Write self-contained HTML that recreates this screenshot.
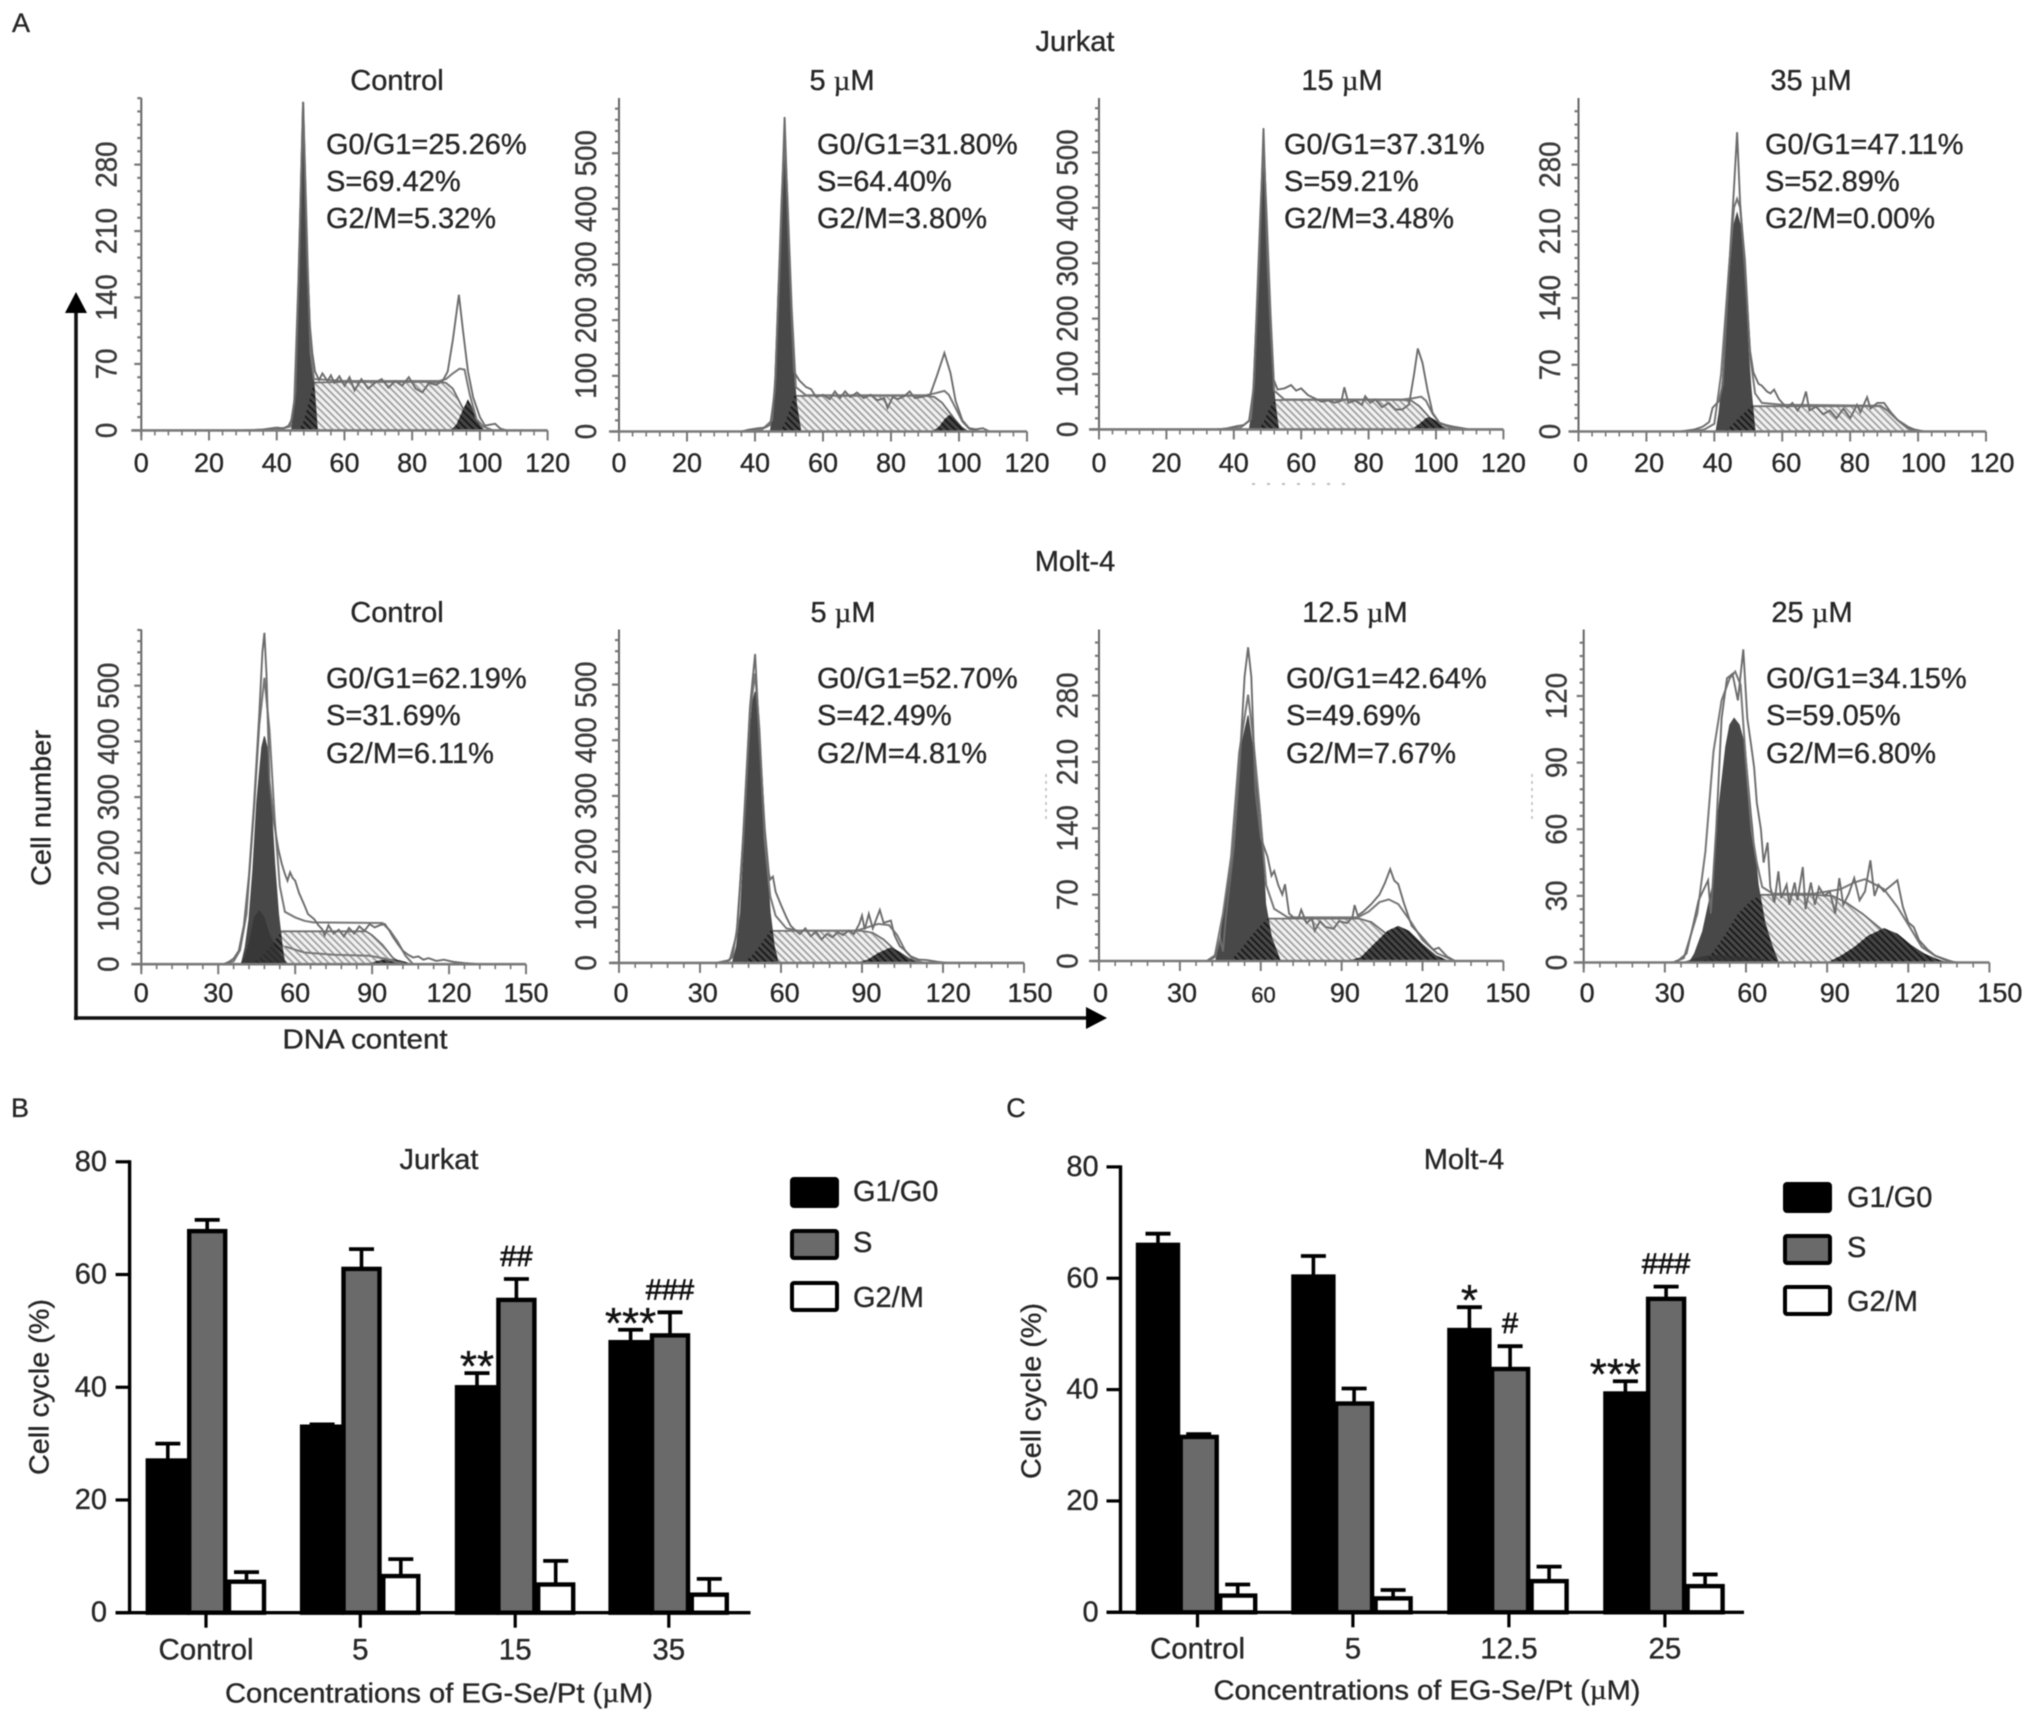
<!DOCTYPE html>
<html lang="en">
<head>
<meta charset="utf-8">
<title>Cell cycle distribution in Jurkat and Molt-4 cells</title>
<style>
html,body{margin:0;padding:0;background:#fff;}
svg{display:block;width:2032px;height:1721px;font-family:"Liberation Sans",sans-serif;filter:blur(0.45px);}
text{fill:#262626;stroke:#262626;stroke-width:0.35px;}
.c{text-anchor:middle;dominant-baseline:central;}
.l{text-anchor:start;dominant-baseline:central;}
.mu{font-family:"Liberation Serif",serif;}
</style>
</head>
<body>
<svg id="fig" xmlns="http://www.w3.org/2000/svg" width="2032" height="1721" viewBox="0 0 2032 1721">
<defs>
<pattern id="hatchLight" width="5" height="5" patternUnits="userSpaceOnUse" patternTransform="rotate(-45)">
<rect width="5" height="5" fill="#f2f2f2"/><line x1="1.5" y1="0" x2="1.5" y2="5" stroke="#9c9c9c" stroke-width="1.7"/>
</pattern>
<pattern id="hatchDark" width="5" height="5" patternUnits="userSpaceOnUse" patternTransform="rotate(-45)">
<line x1="1.5" y1="0" x2="1.5" y2="5" stroke="#151515" stroke-width="1.7"/>
</pattern>
</defs>
<rect width="2032" height="1721" fill="#fff"/>

<text class="c" x="21" y="23" font-size="27">A</text>
<text class="c" x="20" y="1108" font-size="27">B</text>
<text class="c" x="1016" y="1108" font-size="27">C</text>

<text class="c" x="1075" y="42" font-size="29">Jurkat</text>
<text class="c" x="1075" y="562" font-size="29">Molt-4</text>

<text class="c" x="397" y="81" font-size="29">Control</text>
<text class="c" x="842" y="81" font-size="29">5 <tspan class="mu">µ</tspan>M</text>
<text class="c" x="1342" y="81" font-size="29">15 <tspan class="mu">µ</tspan>M</text>
<text class="c" x="1811" y="81" font-size="29">35 <tspan class="mu">µ</tspan>M</text>
<text class="c" x="397" y="613" font-size="29">Control</text>
<text class="c" x="843" y="613" font-size="29">5 <tspan class="mu">µ</tspan>M</text>
<text class="c" x="1355" y="613" font-size="29">12.5 <tspan class="mu">µ</tspan>M</text>
<text class="c" x="1812" y="613" font-size="29">25 <tspan class="mu">µ</tspan>M</text>

<g font-size="29">
<text class="l" x="326" y="145">G0/G1=25.26%</text><text class="l" x="326" y="182">S=69.42%</text><text class="l" x="326" y="219">G2/M=5.32%</text></g>
<g font-size="29">
<text class="l" x="817" y="145">G0/G1=31.80%</text><text class="l" x="817" y="182">S=64.40%</text><text class="l" x="817" y="219">G2/M=3.80%</text></g>
<g font-size="29">
<text class="l" x="1284" y="145">G0/G1=37.31%</text><text class="l" x="1284" y="182">S=59.21%</text><text class="l" x="1284" y="219">G2/M=3.48%</text></g>
<g font-size="29">
<text class="l" x="1765" y="145">G0/G1=47.11%</text><text class="l" x="1765" y="182">S=52.89%</text><text class="l" x="1765" y="219">G2/M=0.00%</text></g>
<g font-size="29">
<text class="l" x="326" y="679">G0/G1=62.19%</text><text class="l" x="326" y="716">S=31.69%</text><text class="l" x="326" y="754">G2/M=6.11%</text></g>
<g font-size="29">
<text class="l" x="817" y="679">G0/G1=52.70%</text><text class="l" x="817" y="716">S=42.49%</text><text class="l" x="817" y="754">G2/M=4.81%</text></g>
<g font-size="29">
<text class="l" x="1286" y="679">G0/G1=42.64%</text><text class="l" x="1286" y="716">S=49.69%</text><text class="l" x="1286" y="754">G2/M=7.67%</text></g>
<g font-size="29">
<text class="l" x="1766" y="679">G0/G1=34.15%</text><text class="l" x="1766" y="716">S=59.05%</text><text class="l" x="1766" y="754">G2/M=6.80%</text></g>

<g>
<line x1="76" y1="1020" x2="76" y2="308" stroke="#111" stroke-width="3.6"/>
<polygon points="76,292 65,313 87,313" fill="#000"/>
</g>
<g>
<line x1="74" y1="1018" x2="1090" y2="1018" stroke="#111" stroke-width="3.6"/>
<polygon points="1107,1018 1086,1007 1086,1029" fill="#000"/>
</g>
<text class="c" transform="translate(41 808) rotate(-90)" font-size="28" textLength="156" lengthAdjust="spacingAndGlyphs">Cell number</text>
<text class="c" x="365" y="1039" font-size="28" textLength="165" lengthAdjust="spacingAndGlyphs">DNA content</text>

<line x1="1252" y1="484" x2="1350" y2="484" stroke="#bbb" stroke-width="2" stroke-dasharray="3 12"/>
<line x1="1046" y1="774" x2="1046" y2="819" stroke="#bbb" stroke-width="1.5" stroke-dasharray="3 4"/>
<line x1="1532" y1="774" x2="1532" y2="819" stroke="#bbb" stroke-width="1.5" stroke-dasharray="3 4"/>

<text class="c" x="439" y="1160" font-size="29">Jurkat</text>
<text class="c" transform="translate(39 1387) rotate(-90)" font-size="28" textLength="176" lengthAdjust="spacingAndGlyphs">Cell cycle (%)</text>
<text class="c" x="439" y="1693" font-size="28" textLength="428" lengthAdjust="spacingAndGlyphs">Concentrations of EG-Se/Pt (<tspan class="mu">µ</tspan>M)</text>
<g>
<rect x="792" y="1179" width="45" height="27" rx="2" fill="#000" stroke="#000" stroke-width="4"/>
<text class="l" x="853" y="1192" font-size="29">G1/G0</text>
<rect x="792" y="1231" width="45" height="27" rx="2" fill="#6a6a6a" stroke="#000" stroke-width="4"/>
<text class="l" x="853" y="1243" font-size="29">S</text>
<rect x="792" y="1283" width="45" height="27" rx="2" fill="#fff" stroke="#000" stroke-width="4"/>
<text class="l" x="853" y="1298" font-size="29">G2/M</text>
</g>

<text class="c" x="1464" y="1160" font-size="29">Molt-4</text>
<text class="c" transform="translate(1031 1391) rotate(-90)" font-size="28" textLength="176" lengthAdjust="spacingAndGlyphs">Cell cycle (%)</text>
<text class="c" x="1427" y="1690" font-size="28" textLength="427" lengthAdjust="spacingAndGlyphs">Concentrations of EG-Se/Pt (<tspan class="mu">µ</tspan>M)</text>
<g>
<rect x="1785" y="1184" width="45" height="27" rx="2" fill="#000" stroke="#000" stroke-width="4"/>
<text class="l" x="1847" y="1198" font-size="29">G1/G0</text>
<rect x="1785" y="1236" width="45" height="27" rx="2" fill="#6a6a6a" stroke="#000" stroke-width="4"/>
<text class="l" x="1847" y="1248" font-size="29">S</text>
<rect x="1785" y="1287" width="45" height="27" rx="2" fill="#fff" stroke="#000" stroke-width="4"/>
<text class="l" x="1847" y="1302" font-size="29">G2/M</text>
</g>
</svg>

<script>
// ---------- histogram tick labels ----------
const xTicks120 = [0, 20, 40, 60, 80, 100, 120];
const xTicks150 = [0, 30, 60, 90, 120, 150];
const yTicks70 = [0, 70, 140, 210, 280];
const yTicks100 = [0, 100, 200, 300, 400, 500];
const yTicks30 = [0, 30, 60, 90, 120];

// ---------- Jurkat control ----------
const j0G1 = [[44.4,0],[45.2,30],[45.8,80],[46.4,150],[47,240],[47.8,346],[48.6,240],[49.2,160],[49.9,90],[51,50],[52,0]];
const j0S = [[46.5,0],[48,10],[49.5,30],[51,50.5],[60,51],[70,51],[80,51],[88,51],[90,50],[92,44],[94,30],[97,10],[99,0]];
const j0G2 = [[91.3,0],[93,6],[95,22],[96.5,33],[98,22],[100,6],[101.5,0]];
const j0Fit = [[30,0],[40,1],[44,4],[45.2,30],[46.4,155],[47.8,346],[49.2,165],[50,82],[51,54],[60,52],[88,52],[90,54],[92,60],[94,65],[95.5,64],[97,38],[99,12],[101,4],[104,0]];
const j0Raw = [[30,0],[36,1],[40,3],[42,2],[43.5,5],[44.5,12],[45.5,40],[46.6,180],[47.8,346],[49,180],[49.8,110],[50.5,82],[51.3,62],[52.5,53],[53.5,60],[55,52],[56,58],[57,50],[58.5,57],[60,47],[61.5,56],[63,42],[65,54],[67,44],[69,50],[71,54],[73,45],[75,52],[77,47],[79,56],[81,44],[83,40],[85,50],[87,48],[89,52],[90.5,62],[92,95],[93.8,143],[95,105],[96.5,62],[98,35],[100,14],[101.5,5],[103,6],[104.5,7],[106,2],[108,0]];

// ---------- Jurkat 5 uM ----------
const j1G1 = [[44.5,0],[45.3,30],[46,90],[46.7,240],[47.8,400],[48.7,530],[49.6,400],[50.6,240],[51.3,120],[52.2,50],[53.5,0]];
const j1S = [[47.5,0],[49,18],[50.5,45],[51.5,64],[60,64],[70,64],[80,64],[90,64],[92.8,62],[95,52],[98,28],[100,10],[102,0]];
const j1G2 = [[92,0],[94,8],[96,24],[97.3,30],[99,22],[101,8],[103,0]];
const j1Fit = [[36,0],[42,3],[45,20],[46,95],[47.8,410],[48.7,530],[49.6,410],[50.8,220],[52,80],[55,65],[90,65],[92.5,68],[95.7,73],[97,66],[99,42],[101,18],[103,5],[106,0]];
const j1Raw = [[36,0],[38,3],[41,6],[43,7],[44.5,12],[45.8,70],[47.3,300],[48.7,565],[49.9,340],[50.8,200],[51.5,107],[53,92],[55,80],[56.5,76],[58,62],[60,66],[62,58],[63.5,72],[65,60],[66.5,72],[68,62],[70,70],[72,60],[74,66],[76,56],[78,60],[79,42],[80.5,62],[82,58],[84,64],[85.5,72],[87,60],[89,62],[91.5,66],[93.5,100],[95.7,141],[97.5,105],[99,55],[101,20],[103,6],[105,4],[107,6],[109,0]];

// ---------- Jurkat 15 uM ----------
const j2G1 = [[44.6,0],[45.4,30],[46.1,90],[46.9,230],[47.9,380],[48.8,515],[49.7,380],[50.7,230],[51.4,110],[52.3,45],[53.3,0]];
const j2S = [[47.5,0],[49,15],[50.5,38],[52.3,53],[60,53],[70,53],[80,53],[90,53],[92.7,52],[95,42],[98,22],[100,6],[101,0]];
const j2G2 = [[92.7,0],[95,10],[97,20],[98,23],[100,16],[102,6],[104,0]];
const j2Fit = [[35,0],[42,3],[45,18],[46,85],[47.9,390],[48.8,515],[49.7,390],[50.9,210],[52,70],[55,54],[90,54],[93,56],[95.6,59],[97,52],[99,28],[101,12],[104,3],[108,0]];
const j2Raw = [[35,0],[38,2],[41,6],[43,8],[44.5,15],[45.8,70],[47.5,300],[48.8,544],[50,300],[51,170],[51.8,90],[53,72],[55,74],[57,80],[58.5,70],[60,74],[62,62],[64,56],[66,50],[68,52],[70,48],[72,52],[72.8,76],[74,48],[76,52],[78,44],[79,60],[80.5,48],[82,54],[84,40],[86,48],[88,36],[90,36],[92,45],[93.5,100],[94.6,146],[96,120],[97.5,70],[99,30],[101,12],[103,8],[105,5],[107,3],[110,0]];

// ---------- Jurkat 35 uM ----------
const j3G1 = [[40.5,0],[41.4,20],[42.4,55],[43.4,105],[44.3,164],[45.6,215],[46.7,229],[47.8,215],[49,164],[50,85],[50.8,45],[52,0]];
const j3S = [[43,0],[45,6],[47,14],[49.5,22],[51,26.5],[60,26.5],[70,26.5],[80,26.5],[89,26.5],[91,22],[94,12],[97,3],[98.7,0]];
const j3G2 = [];
const j3Fit = [[30,0],[37,2],[40,8],[42,60],[44.3,170],[45.8,235],[46.7,244],[47.6,235],[49,180],[50.5,80],[52,40],[54,30],[60,28],[89,27],[91,22],[94,12],[97,3],[100,0]];
const j3Raw = [[30,0],[34,2],[36.6,5],[38.5,10],[39.5,25],[41.4,32],[42.5,50],[44,150],[45.7,250],[46.7,314],[47.6,240],[49,170],[50.5,85],[51.5,62],[53,50],[54,48],[55.5,42],[56.5,40],[57.6,44],[59,34],[60,30],[61.5,25],[63,30],[64.5,22],[66,30],[67,42],[68,22],[70,26],[72,18],[74,22],[76,14],[78,24],[80,14],[82,28],[83,20],[85,36],[86,24],[88,30],[90,30],[92,20],[94,12],[97,5],[99,2],[102,0]];

// ---------- Molt-4 control ----------
const m0G1 = [[39,0],[40.5,30],[42,80],[43.5,170],[45,290],[47,390],[48,409],[49,390],[50.5,300],[52,180],[53.5,90],[55,30],[56,0]];
const m0G1b = [[38.4,0],[40,10],[42,40],[44,85],[46,97],[48,85],[50,55],[52,35],[54,20],[57.3,0]];
const m0S = [[42,0],[46,10],[50,30],[54.8,59],[60,59],[70,59],[87.6,59],[90,52],[94,35],[98,12],[101.5,0]];
const m0G2 = [[88,0],[92,6],[96.5,10],[101,7],[106,0]];
const m0Fit = [[32,0],[36,5],[38.5,25],[41,90],[44,280],[46,430],[48,514],[50,420],[52,260],[54,140],[56,94],[60,84],[63.6,78],[67,75],[94,74],[97,60],[100,40],[103,15],[106,0]];
const m0Low = [[56,32],[60,26],[63.6,21],[75,17],[89,15],[95,10],[101,2],[103,0]];
const m0Raw = [[32,0],[34,4],[36,10],[38,24],[40,70],[42,160],[44,290],[46,450],[47.2,560],[48,595],[48.8,520],[50,330],[51.5,260],[53.5,205],[54.8,180],[56,162],[57,150],[58,165],[59,155],[60,150],[61.5,128],[63.6,106],[65,90],[67.4,81],[69,70],[70.5,63],[71.5,52],[73,70],[75,55],[77,62],[79,50],[81,65],[83,55],[85,68],[87,60],[89,72],[91,66],[93,70],[95,72],[96.5,62],[98,50],[100,36],[102,24],[104,17],[106,12],[108,14],[110,8],[112,11],[115,6],[118,8],[122,4],[126,2],[132,0]];

// ---------- Molt-4 5 uM ----------
const m1G1 = [[42,0],[43.5,30],[45,90],[46.5,230],[48,390],[49.5,470],[50.4,487],[51.5,460],[53,330],[54.5,200],[56,90],[57.5,30],[59,0]];
const m1S = [[46,0],[49,12],[52,30],[56,57.5],[60,57.5],[70,57.5],[80,57.5],[90,57.5],[94,54],[98,42],[102,24],[106,10],[111,0]];
const m1G2 = [[87.5,0],[92,6],[96,18],[100.7,28],[104,20],[108,7],[113,0]];
const m1Fit = [[36,0],[41,5],[43.5,50],[46,220],[48.5,450],[50.4,520],[52,420],[54,220],[56,120],[58,85],[62,62],[66,58],[88,58],[92,64],[96,70],[100,68],[103,50],[106,22],[109,6],[113,0]];
const m1Raw = [[36,0],[40,3],[42,10],[44,70],[46,230],[48.5,460],[50.4,555],[52,400],[54,240],[55.5,160],[56,150],[57,155],[58,128],[60,104],[62,82],[63.5,67],[65,60],[67,52],[69,62],[71,48],[73,56],[75,42],[77,52],[79,46],[81,55],[83,50],[85,58],[87,52],[89,70],[90,85],[91,60],[92.5,88],[94,62],[96.6,95],[98,72],[100.7,76],[102,50],[104,30],[105.5,24],[108,12],[111,6],[114,5],[118,2],[122,0]];

// ---------- Molt-4 12.5 uM ----------
const m2G1 = [[43.3,0],[44.5,15],[46,44],[48.5,95],[51,153],[53,230],[55.3,259],[57,225],[60,153],[61.8,60],[64,25],[67.3,0]];
const m2S = [[48.5,0],[52,10],[56,25],[60,38],[62.5,44.7],[70,44.7],[80,44.7],[90,44.7],[96.6,44.7],[101,41],[106,30],[112,17],[118,7],[123,0]];
const m2G2 = [[92,0],[97,4],[102,18],[107,32],[111,37],[115,32],[120,18],[125,6],[130,0]];
const m2Fit = [[40,0],[43,6],[46,50],[49,110],[52,220],[55.3,281],[57,240],[59.5,165],[62,80],[65,55],[70,46],[96,46],[100,52],[104,62],[107.5,65],[111,60],[116,40],[120,22],[125.5,8],[132,0]];
const m2Raw = [[40,0],[43,4],[45,23],[46,10],[47,45],[50,120],[52,200],[54,300],[55.3,331],[56.5,300],[58,180],[60,130],[62.5,110],[64,90],[65,95],[66.5,80],[68,70],[69,81],[70.5,50],[72.6,45],[74,45],[75,54],[77,40],[79,45],[80,32],[82,42],[84,36],[87,34],[89,42],[92,40],[94,46],[94.8,59],[96,48],[98,52],[101,60],[104,70],[106,82],[108,97],[109.5,85],[111,81],[113,62],[116,37],[119,28],[122,18],[124,12],[126,14],[129,5],[132,0]];

// ---------- Molt-4 25 uM ----------
const m3G1 = [[39,0],[41,4],[44,14],[47.7,35],[49.6,66],[52.5,97],[54,107],[55.6,110],[57.5,107],[59.7,97],[62,66],[64.5,35],[67,18],[69.5,8],[72,0]];
const m3G1b = [[36,0],[40,1.5],[45,3],[50,3.4],[55,3],[60,2.5],[65,2],[72,0]];
const m3S = [[44,0],[48,5],[52,12],[57,22],[62,28],[65.7,30.5],[75,30.5],[85,30.5],[92,30],[97,27],[103,22],[108,17],[112,13],[118,7],[124,3],[130,0]];
const m3G2 = [[90,0],[95,3],[100,7],[105,12],[111,15.5],[116,13],[121,8],[126,4],[131,1.5],[135,0]];
const m3Fit = [[33,0],[37,2],[39,10],[42,22],[45,50],[48,95],[51,118],[54,128],[56,131],[58,125],[60,90],[62,60],[64,45],[66,34],[70,31],[85,31],[95,33],[100,36],[104,37.5],[108,35],[111,33],[116,25],[120,17],[125,7],[130,3],[137,0]];
const m3Raw = [[33,0],[35,1],[38,4],[40.5,17],[42.5,28],[46,37],[47,22],[49,60],[51,110],[53,128],[55,130],[57,118],[59,141],[60.5,110],[62,97],[63,88],[64,72],[65.5,60],[66.5,45],[68,54],[69,34],[70.5,27],[72,41],[73,29],[75,35],[76,26],[78,36],[79,28],[81,43],[82,24],[84,36],[85.5,26],[87,34],[89,30],[91,32],[93,22],[94.5,38],[96,26],[98,31],[100,38],[102,28],[104,32],[106,46],[107.5,30],[109,35],[111,32],[113,34],[116,37],[118,25],[120,18],[122,16],[124,10],[127,6],[130,3],[134,1],[138,0]];

// ---------- bar chart data ----------
const jurkatCategories = ['Control', '5', '15', '35'];
const jurkatG1 = [27, 33, 40, 48];
const jurkatS = [67.7, 61, 55.5, 49.2];
const jurkatG2 = [5.5, 6.5, 5, 3.2];
const jurkatG1Upper = [30, 33.4, 42.5, 50.2];
const jurkatSUpper = [69.7, 64.5, 59.2, 53.3];
const jurkatG2Upper = [7.2, 9.5, 9.2, 6];
const jurkatG1Marks = ['', '', '**', '***'];
const jurkatSMarks = ['', '', '##', '###'];

const moltCategories = ['Control', '5', '12.5', '25'];
const moltG1 = [66, 60.3, 50.7, 39.3];
const moltS = [31.5, 37.5, 43.7, 56.3];
const moltG2 = [3, 2.5, 5.6, 4.7];
const moltG1Upper = [68, 64, 54.8, 41.5];
const moltSUpper = [32, 40.2, 47.8, 58.5];
const moltG2Upper = [5, 4, 8.2, 6.8];
const moltG1Marks = ['', '', '*', '***'];
const moltSMarks = ['', '', '#', '###'];

const barTicks = [0, 20, 40, 60, 80];

// ---------- layout (pixels) ----------
const svg = document.getElementById('fig');
const NS = 'http://www.w3.org/2000/svg';
function make(parent, tag, attrs, text) {
  const el = document.createElementNS(NS, tag);
  for (const k in attrs) el.setAttribute(k, attrs[k]);
  if (text !== undefined) el.textContent = text;
  parent.appendChild(el);
  return el;
}
function pathFrom(pts, sx, sy, close) {
  const d = pts.map((p, i) => (i ? 'L' : 'M') + sx(p[0]).toFixed(1) + ' ' + sy(p[1]).toFixed(1)).join('');
  return d + (close ? 'Z' : '');
}

const histograms = [
  {id:'jurkat-control', x0:141.3, x1:547.6, xMax:120, xTicks:xTicks120, xMinor:4, y0:430.4, yRefVal:280, yRefPx:164.6, yTicks:yTicks70, yMinor:14, top:98, yLabelX:107, xLabelY:463, g1:j0G1, s:j0S, g2:j0G2, fit:j0Fit, raw:j0Raw},
  {id:'jurkat-5um', x0:619, x1:1027, xMax:120, xTicks:xTicks120, xMinor:4, y0:431.5, yRefVal:500, yRefPx:153.2, yTicks:yTicks100, yMinor:20, top:98, yLabelX:586.5, xLabelY:463, g1:j1G1, s:j1S, g2:j1G2, fit:j1Fit, raw:j1Raw},
  {id:'jurkat-15um', x0:1099, x1:1503.4, xMax:120, xTicks:xTicks120, xMinor:4, y0:429.4, yRefVal:500, yRefPx:152.5, yTicks:yTicks100, yMinor:20, top:98, yLabelX:1068, xLabelY:463, g1:j2G1, s:j2S, g2:j2G2, fit:j2Fit, raw:j2Raw},
  {id:'jurkat-35um', x0:1578.5, x1:1986, xMax:120, xTicks:xTicks120, xMinor:4, y0:431.5, yRefVal:280, yRefPx:164.6, yTicks:yTicks70, yMinor:14, top:98, yLabelX:1550.7, xLabelY:463, labelDx:4, g1:j3G1, s:j3S, g2:j3G2, fit:j3Fit, raw:j3Raw},
  {id:'molt4-control', x0:141.3, x1:526, xMax:150, xTicks:xTicks150, xMinor:6, y0:964.2, yRefVal:500, yRefPx:685.7, yTicks:yTicks100, yMinor:20, top:629.5, yLabelX:109, xLabelY:993, g1:m0G1, g1b:m0G1b, s:m0S, g2:m0G2, fit:m0Fit, low:m0Low, raw:m0Raw},
  {id:'molt4-5um', x0:619, x1:1024, xMax:150, xTicks:xTicks150, xMinor:6, y0:962.9, yRefVal:500, yRefPx:684.6, yTicks:yTicks100, yMinor:20, top:629.5, yLabelX:586.5, xLabelY:993, labelDx:4, g1:m1G1, s:m1S, g2:m1G2, fit:m1Fit, raw:m1Raw},
  {id:'molt4-12-5um', x0:1099, x1:1503.4, xMax:150, xTicks:xTicks150, xMinor:6, y0:961, yRefVal:280, yRefPx:695.6, yTicks:yTicks70, yMinor:14, top:629.5, yLabelX:1068, xLabelY:993, labelDx:3, smallLabel:60, g1:m2G1, s:m2S, g2:m2G2, fit:m2Fit, raw:m2Raw},
  {id:'molt4-25um', x0:1583.7, x1:1989.4, xMax:150, xTicks:xTicks150, xMinor:6, y0:962.5, yRefVal:120, yRefPx:696, yTicks:yTicks30, yMinor:6, top:629.5, yLabelX:1557, xLabelY:993, labelDx:7, g1:m3G1, g1b:m3G1b, s:m3S, g2:m3G2, fit:m3Fit, raw:m3Raw}
];

histograms.forEach(function (p) {
  const sx = v => p.x0 + (p.x1 - p.x0) * v / p.xMax;
  const sy = v => p.y0 - (p.y0 - p.yRefPx) * v / p.yRefVal;

  const g = make(svg, 'g', {});
  
  

  const sPath = pathFrom(p.s, sx, sy, true);
  const g1Path = pathFrom(p.g1, sx, sy, true);

  const sArea = make(g, 'path', {d:sPath, fill:'url(#hatchLight)', stroke:'#6e6e6e', 'stroke-width':1.8});
  
  

  const g1Area = make(g, 'path', {d:g1Path, fill:'#484848', stroke:'#484848', 'stroke-width':1});
  
  

  const clip = make(g, 'clipPath', {id:'clip-' + p.id});
  make(clip, 'path', {d:g1Path});
  const overlap = make(g, 'path', {d:sPath, fill:'url(#hatchDark)', 'clip-path':'url(#clip-' + p.id + ')'});
  
  

  if (p.g1b) {
    const sub = make(g, 'path', {d:pathFrom(p.g1b, sx, sy, true), fill:'#333', 'fill-opacity':0.75});
    
    
  }
  if (p.g2.length) {
    const g2a = make(g, 'path', {d:pathFrom(p.g2, sx, sy, true), fill:'#454545'});
    
    
    const g2h = make(g, 'path', {d:pathFrom(p.g2, sx, sy, true), fill:'url(#hatchDark)'});
    
    
  }
  const fit = make(g, 'path', {d:pathFrom(p.fit, sx, sy), fill:'none', stroke:'#777', 'stroke-width':2});
  
  
  if (p.low) {
    const low = make(g, 'path', {d:pathFrom(p.low, sx, sy), fill:'none', stroke:'#777', 'stroke-width':2});
    
    
  }
  const raw = make(g, 'path', {d:pathFrom(p.raw, sx, sy), fill:'none', stroke:'#6c6c6c', 'stroke-width':1.9});
  
  

  // axes
  const yAxis = make(g, 'line', {x1:p.x0, y1:p.top, x2:p.x0, y2:p.y0 + 6, stroke:'#666', 'stroke-width':2});
  
  
  const xAxis = make(g, 'line', {x1:p.x0 - 10, y1:p.y0, x2:p.x1, y2:p.y0, stroke:'#7a7a7a', 'stroke-width':2.6});
  
  

  // minor + major x ticks
  for (let v = 0; v <= p.xMax; v += p.xMinor) {
    const major = p.xTicks.indexOf(v) >= 0;
    const t = make(g, 'line', {x1:sx(v), y1:p.y0, x2:sx(v), y2:p.y0 + (major ? 10 : 5), stroke:'#777', 'stroke-width':major ? 2 : 1.6});
    
    
  }
  // minor + major y ticks
  for (let v = 0; sy(v) >= p.top; v += p.yMinor) {
    const major = p.yTicks.indexOf(v) >= 0;
    const t = make(g, 'line', {x1:p.x0 - (major ? 7 : 4), y1:sy(v), x2:p.x0, y2:sy(v), stroke:'#777', 'stroke-width':2.2});
    
    
  }
  // tick labels
  p.xTicks.forEach(function (v) {
    const small = p.smallLabel === v;
    const lab = make(g, 'text', {class:'c', x:sx(v) + (p.labelDx || 0) * (0.5 + v / p.xMax), y:p.xLabelY + (small ? 2 : 0), 'font-size':small ? 22 : 27}, String(v));
    
    
  });
  p.yTicks.forEach(function (v) {
    const s = String(v);
    const lab = make(g, 'text', {class:'c', transform:'translate(' + p.yLabelX + ' ' + sy(v).toFixed(1) + ') rotate(-90)', 'font-size':30, textLength:s.length * 15.4, lengthAdjust:'spacingAndGlyphs', style:'fill:#3a3a3a;stroke:#3a3a3a'}, s);
    
    
  });
});

const barCharts = [
  {id:'chart-b', axisX:129.6, axisRight:750.5, y0:1612.7, y80:1161.8, centers:[206, 360.3, 515.2, 668.8], offsets:[-38.2, 1.2, 40.5], labelY:1650, labelRight:107,
   cats:jurkatCategories, g1:jurkatG1, s:jurkatS, g2:jurkatG2, g1U:jurkatG1Upper, sU:jurkatSUpper, g2U:jurkatG2Upper, g1M:jurkatG1Marks, sM:jurkatSMarks, lastStarDx:0},
  {id:'chart-c', axisX:1120.5, axisRight:1744, y0:1612.3, y80:1166.9, centers:[1197.5, 1352.9, 1508.9, 1664.9], offsets:[-39.5, 1.2, 40.2], labelY:1649, labelRight:1098.7,
   cats:moltCategories, g1:moltG1, s:moltS, g2:moltG2, g1U:moltG1Upper, sU:moltSUpper, g2U:moltG2Upper, g1M:moltG1Marks, sM:moltSMarks, lastStarDx:-10}
];

barCharts.forEach(function (c) {
  const sy = v => c.y0 - (c.y0 - c.y80) * v / 80;
  const g = make(svg, 'g', {});
  
  

  const series = [
    {key:'g1', vals:c.g1, up:c.g1U, fill:'#000', w:40},
    {key:'s', vals:c.s, up:c.sU, fill:'#6a6a6a', w:36},
    {key:'g2', vals:c.g2, up:c.g2U, fill:'#fff', w:35}
  ];
  series.forEach(function (s, si) {
    s.vals.forEach(function (v, i) {
      const cx = c.centers[i] + c.offsets[si];
      const err = make(g, 'line', {x1:cx, y1:sy(s.up[i]), x2:cx, y2:sy(v), stroke:'#000', 'stroke-width':3.6});
      
      
      const cap = make(g, 'line', {x1:cx - 12.5, y1:sy(s.up[i]), x2:cx + 12.5, y2:sy(s.up[i]), stroke:'#000', 'stroke-width':3.8});
      
      
      const bar = make(g, 'rect', {x:cx - s.w / 2, y:sy(v), width:s.w, height:sy(0) - sy(v), fill:s.fill, stroke:'#000', 'stroke-width':4.4});
      
      
    });
  });

  const yAxis = make(g, 'line', {x1:c.axisX, y1:c.y80 - 1.5, x2:c.axisX, y2:c.y0, stroke:'#000', 'stroke-width':3.4});
  
  
  const xAxis = make(g, 'line', {x1:c.axisX - 14, y1:c.y0, x2:c.axisRight, y2:c.y0, stroke:'#000', 'stroke-width':3.4});
  
  

  barTicks.forEach(function (v) {
    const t = make(g, 'line', {x1:c.axisX - 14, y1:sy(v), x2:c.axisX, y2:sy(v), stroke:'#000', 'stroke-width':3.2});
    
    
    const l = make(g, 'text', {x:c.labelRight, y:sy(v), 'text-anchor':'end', 'dominant-baseline':'central', 'font-size':29}, String(v));
    
    
  });
  c.cats.forEach(function (name, i) {
    const t = make(g, 'line', {x1:c.centers[i], y1:c.y0, x2:c.centers[i], y2:c.y0 + 15, stroke:'#000', 'stroke-width':3.2});
    
    
    const l = make(g, 'text', {class:'c', x:c.centers[i], y:c.labelY, 'font-size':29.5}, name);
    
    
  });

  c.g1M.forEach(function (m, i) {
    if (!m) return;
    const dx = i === 3 ? c.lastStarDx : 0;
    const t = make(g, 'text', {x:c.centers[i] + c.offsets[0] + dx, y:sy(c.g1U[i]) + 8, 'text-anchor':'middle', 'font-size':44, style:'fill:#111;stroke:#111'}, m);
    
    
  });
  c.sM.forEach(function (m, i) {
    if (!m) return;
    const t = make(g, 'text', {x:c.centers[i] + c.offsets[1], y:sy(c.sU[i]) - 13, 'text-anchor':'middle', 'font-size':29, style:'fill:#111;stroke:#111;stroke-width:0.7px'}, m);
    
    
  });
});
</script>
</body>
</html>
